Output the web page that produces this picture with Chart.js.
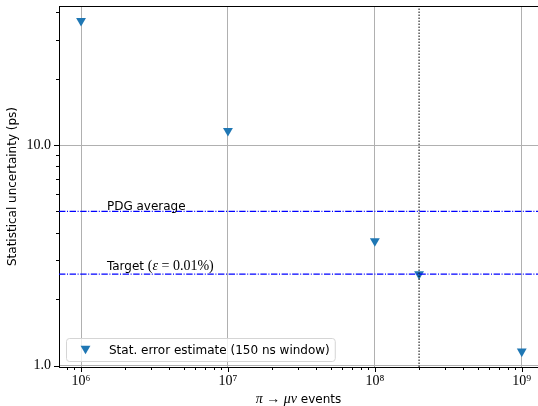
<!DOCTYPE html>
<html>
<head>
<meta charset="utf-8">
<script src="https://cdn.jsdelivr.net/npm/chart.js@4.4.0/dist/chart.umd.min.js"></script>
<style>
  html, body { margin: 0; padding: 0; background: #fff; }
</style>
</head>
<body>
<canvas id="myChart" width="538" height="406"></canvas>
<script>
// data
const nEvents = [1e6, 1e7, 1e8, 2e8, 1e9];
const statErr = [36.6, 11.6, 3.67, 2.6, 1.16];
const seriesLabel = "Stat. error estimate (150 ns window)";

const refValues = [5.0, 2.6];          // PDG average, target
const refLabelX = [1.5e6, 1.5e6];
const refLabelY = [5.1, 2.7];
const markerX = 2e8;                   // dotted vertical line

const xRange = [7.08e5, 1.29e9];
const yRange = [0.986, 42.7];
const xMajor = [1e6, 1e7, 1e8, 1e9];
const xTickLabels = ["10\u2076", "10\u2077", "10\u2078", "10\u2079"];
const yMajor = [1, 10];
const yTickLabels = ["1.0", "10.0"];

const SANS = '"DejaVu Sans"';
const SERIF = '"Liberation Serif"';

function logTicks(min, max) {
  const out = [];
  for (let e = Math.floor(Math.log10(min)); e <= Math.ceil(Math.log10(max)); e++) {
    for (let m = 1; m <= 9; m++) {
      const v = m * Math.pow(10, e);
      if (v >= min && v <= max) out.push({ value: v });
    }
  }
  return out;
}

function majorIndex(list, v) {
  return list.findIndex((m) => Math.abs(m - v) / m < 1e-9);
}

// draw text made of several font pieces
function drawMixed(ctx, parts, x, y, align) {
  let total = 0;
  parts.forEach((p) => { ctx.font = p.font; total += ctx.measureText(p.t).width; });
  let cx = align === "center" ? x - total / 2 : x;
  ctx.textBaseline = "alphabetic";
  ctx.textAlign = "left";
  parts.forEach((p) => {
    ctx.font = p.font;
    ctx.fillText(p.t, cx, y);
    cx += ctx.measureText(p.t).width;
  });
}

const decor = {
  id: "decor",
  afterDatasetsDraw(chart) {
    const ctx = chart.ctx;
    const xs = chart.scales.x, ys = chart.scales.y;
    ctx.save();
    ctx.fillStyle = "#000";
    // reference line labels
    drawMixed(ctx, [{ t: "PDG average", font: "12px " + SANS }],
      xs.getPixelForValue(refLabelX[0]), ys.getPixelForValue(refLabelY[0]), "left");
    drawMixed(ctx, [
      { t: "Target ", font: "12px " + SANS },
      { t: "(", font: "14px " + SERIF },
      { t: "\u03b5", font: "italic 14px " + SERIF },
      { t: " = 0.01%)", font: "14px " + SERIF },
    ], xs.getPixelForValue(refLabelX[1]), ys.getPixelForValue(refLabelY[1]), "left");
    ctx.restore();
  },
  afterDraw(chart) {
    const ctx = chart.ctx;
    const a = chart.chartArea;
    const xs = chart.scales.x, ys = chart.scales.y;
    ctx.save();
    // top spine
    ctx.strokeStyle = "#000";
    ctx.lineWidth = 1;
    ctx.beginPath();
    ctx.moveTo(a.left, a.top + 0.5);
    ctx.lineTo(a.right, a.top + 0.5);
    ctx.stroke();
    // tick marks, long for majors
    xs.ticks.forEach((t) => {
      const px = Math.round(xs.getPixelForValue(t.value)) + 0.5;
      const len = majorIndex(xMajor, t.value) >= 0 ? 5 : 3;
      ctx.beginPath();
      ctx.moveTo(px, a.bottom);
      ctx.lineTo(px, a.bottom + len);
      ctx.stroke();
    });
    ys.ticks.forEach((t) => {
      const py = Math.round(ys.getPixelForValue(t.value)) + 0.5;
      const len = majorIndex(yMajor, t.value) >= 0 ? 5 : 3;
      ctx.beginPath();
      ctx.moveTo(a.left, py);
      ctx.lineTo(a.left - len, py);
      ctx.stroke();
    });
    // x axis title
    ctx.fillStyle = "#000";
    drawMixed(ctx, [
      { t: "\u03c0", font: "italic 14px " + SERIF },
      { t: " \u2192 ", font: "14px " + SERIF },
      { t: "\u03bc\u03bd", font: "italic 14px " + SERIF },
      { t: " events", font: "12px " + SANS },
    ], (a.left + a.right) / 2, 403, "center");

    // legend box inside the axes
    const ds = chart.data.datasets[0];
    ctx.font = "12px " + SANS;
    const tw = ctx.measureText(ds.label).width;
    const w = 44 + tw + 4, h = 23;
    const lx = a.left + 7, ly = a.bottom - 6 - h;
    ctx.beginPath();
    ctx.roundRect(lx + 0.5, ly + 0.5, w, h, 3);
    ctx.fillStyle = "rgba(255,255,255,0.8)";
    ctx.fill();
    ctx.strokeStyle = "#d5d5d5";
    ctx.stroke();
    ctx.fillStyle = ds.backgroundColor;
    Chart.helpers.drawPoint(ctx, { pointStyle: "triangle", rotation: 180, radius: ds.pointRadius, borderWidth: 0 },
      lx + 19.5, ly + h / 2 - 1);
    ctx.fillStyle = "#000";
    ctx.textBaseline = "middle";
    ctx.textAlign = "left";
    ctx.fillText(ds.label, lx + 43, ly + h / 2 + 1);
    ctx.restore();
  },
};

const hLine = (v) => [{ x: xRange[0], y: v }, { x: xRange[1], y: v }];
const dashDot = [6.4, 1.6, 1, 1.6];

const data = {
  datasets: [
    {
      label: seriesLabel,
      data: nEvents.map((n, i) => ({ x: n, y: statErr[i] })),
      pointStyle: "triangle",
      rotation: 180,
      pointRadius: 5.7,
      pointBorderWidth: 0,
      backgroundColor: "#1f77b4",
      borderColor: "#1f77b4",
      order: 2,
    },
    {
      label: "PDG average",
      data: hLine(refValues[0]),
      showLine: true,
      borderColor: "#0000ff",
      backgroundColor: "#0000ff",
      borderWidth: 1.2,
      borderDash: dashDot,
      pointRadius: 0,
      order: 1,
    },
    {
      label: "Target",
      data: hLine(refValues[1]),
      showLine: true,
      borderColor: "#0000ff",
      backgroundColor: "#0000ff",
      borderWidth: 1.2,
      borderDash: dashDot,
      pointRadius: 0,
      order: 1,
    },
    {
      label: "marker",
      data: [{ x: markerX, y: yRange[0] }, { x: markerX, y: yRange[1] }],
      showLine: true,
      borderColor: "#000",
      backgroundColor: "#000",
      borderWidth: 1,
      borderDash: [1.5, 1.5],
      pointRadius: 0,
      order: 1,
    },
  ],
};

const config = {
  type: "scatter",
  data,
  plugins: [decor],
  options: {
    responsive: false,
    animation: false,
    events: [],
    layout: { autoPadding: false, padding: { top: 6, right: 0, left: 0, bottom: 0 } },
    plugins: { legend: { display: false }, tooltip: { enabled: false } },
    scales: {
      x: {
        type: "logarithmic",
        min: xRange[0],
        max: xRange[1],
        afterBuildTicks: (s) => { s.ticks = logTicks(xRange[0], xRange[1]); },
        afterFit: (s) => {
          s.height = 39;
          s.paddingLeft = 0; s.paddingRight = 0;
        },
        border: { display: true, color: "#000", width: 1 },
        grid: {
          drawTicks: false,
          lineWidth: 1,
          color: (c) => (c.tick && majorIndex(xMajor, c.tick.value) >= 0 ? "#b0b0b0" : "rgba(0,0,0,0)"),
        },
        ticks: {
          autoSkip: false,
          maxRotation: 0,
          padding: 6,
          color: "#000",
          font: { family: "Liberation Serif", size: 14 },
          callback: (v) => { const i = majorIndex(xMajor, v); return i >= 0 ? xTickLabels[i] : ""; },
        },
      },
      y: {
        type: "logarithmic",
        min: yRange[0],
        max: yRange[1],
        afterBuildTicks: (s) => { s.ticks = logTicks(yRange[0], yRange[1]); },
        afterFit: (s) => {
          s.width = 59;
          s.paddingTop = 0; s.paddingBottom = 0;
        },
        border: { display: true, color: "#000", width: 1 },
        grid: {
          drawTicks: false,
          lineWidth: 1,
          color: (c) => (c.tick && majorIndex(yMajor, c.tick.value) >= 0 ? "#b0b0b0" : "rgba(0,0,0,0)"),
        },
        ticks: {
          autoSkip: false,
          padding: 8,
          color: "#000",
          font: { family: "Liberation Serif", size: 14 },
          callback: (v) => { const i = majorIndex(yMajor, v); return i >= 0 ? yTickLabels[i] : ""; },
        },
        title: {
          display: true,
          text: "Statistical uncertainty (ps)",
          color: "#000",
          font: { family: "DejaVu Sans", size: 12 },
          padding: { top: 6, bottom: 0 },
        },
      },
    },
  },
};

const myChart = new Chart(document.getElementById("myChart"), config);
</script>
</body>
</html>
